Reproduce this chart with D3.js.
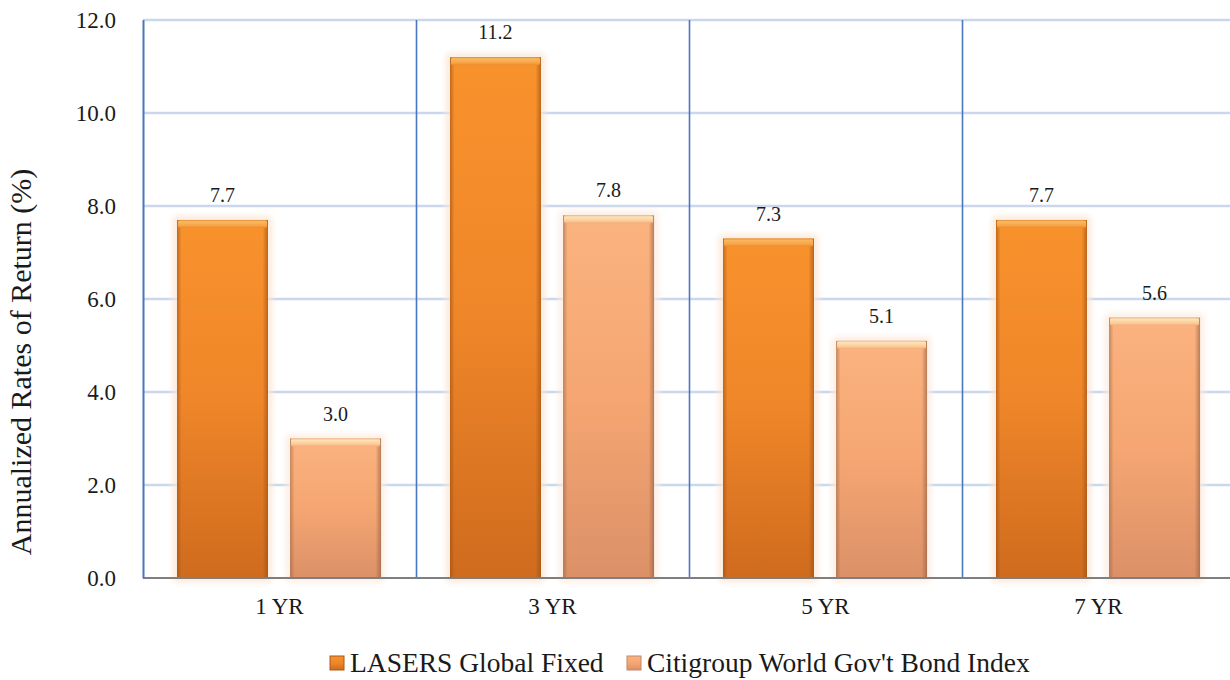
<!DOCTYPE html>
<html>
<head>
<meta charset="utf-8">
<script src="https://cdn.jsdelivr.net/npm/d3@7"></script>
<style>
  html, body { margin: 0; padding: 0; background: #ffffff; }
  svg { display: block; }
  svg text { font-family: "Liberation Serif", "DejaVu Serif", serif !important; fill: #1a1a1a; }
</style>
</head>
<body>
<svg id="chart" width="1230" height="680"></svg>
<script>
// Annualized returns by horizon
const categories = ["1 YR", "3 YR", "5 YR", "7 YR"];
const seriesNames = ["LASERS Global Fixed", "Citigroup World Gov't Bond Index"];
const lasersValues = [7.7, 11.2, 7.3, 7.7];
const citiValues = [3.0, 7.8, 5.1, 5.6];
const yTicks = [0, 2, 4, 6, 8, 10, 12];
const yTitle = "Annualized Rates of Return (%)";

const svg = d3.select("#chart");
const margin = { left: 143, right: -5, top: 20, bottom: 102 };
const W = 1230, H = 680;
const FONT = "'Liberation Serif', 'DejaVu Serif', serif";

const x0 = d3.scaleBand().domain(categories).range([margin.left, W - margin.right]).paddingInner(0).paddingOuter(0);
const bw = x0.bandwidth();
const x1 = d3.scaleBand().domain(seriesNames)
  .range([bw * 0.1245, bw * 0.872]).paddingInner(0.195).paddingOuter(0);
const y = d3.scaleLinear().domain([0, 12]).range([H - margin.bottom, margin.top]);

const defs = svg.append("defs");
function grad(id, horizontal, stops) {
  const g = defs.append("linearGradient").attr("id", id)
    .attr("x1", 0).attr("y1", 0).attr("x2", horizontal ? 1 : 0).attr("y2", horizontal ? 0 : 1);
  stops.forEach(s => g.append("stop").attr("offset", s[0]).attr("stop-color", s[1]).attr("stop-opacity", s[2] == null ? 1 : s[2]));
}
grad("fillA", false, [[0, "#f8922c"], [0.5, "#ef8629"], [1, "#cf6b1e"]]);
grad("fillB", false, [[0, "#fbb37f"], [0.5, "#f5a672"], [1, "#db9067"]]);
grad("edgeA", true, [[0, "#9a4f14", 0.6], [0.05, "#9a4f14", 0], [0.94, "#9a4f14", 0], [1, "#9a4f14", 0.65]]);
grad("edgeB", true, [[0, "#8c5a3e", 0.5], [0.05, "#8c5a3e", 0], [0.94, "#8c5a3e", 0], [1, "#8c5a3e", 0.6]]);
grad("capA", false, [[0, "#d98a3a"], [0.2, "#fab85e"], [0.7, "#f8a347"], [1, "#ec8c2d"]]);
grad("capB", false, [[0, "#e8b68e"], [0.2, "#fde3b6"], [0.7, "#fccb97"], [1, "#f4ac7c"]]);
const glow = defs.append("filter").attr("id", "glow").attr("x", "-20%").attr("y", "-20%").attr("width", "140%").attr("height", "140%");
glow.append("feGaussianBlur").attr("stdDeviation", 2.5);

// horizontal gridlines
svg.append("g").selectAll("line").data(yTicks.filter(t => t > 0)).join("line")
  .attr("x1", margin.left).attr("x2", W)
  .attr("y1", d => y(d)).attr("y2", d => y(d))
  .attr("stroke", "#cbd7ec").attr("stroke-width", 2.4);

// category dividers
svg.append("g").selectAll("line").data(categories).join("line")
  .attr("x1", d => x0(d) + 0.5).attr("x2", d => x0(d) + 0.5)
  .attr("y1", y(12)).attr("y2", y(0))
  .attr("stroke", "#4a76c0").attr("stroke-width", 1.6);

// bars
const rows = categories.map((c, i) => ({ cat: c, vals: [lasersValues[i], citiValues[i]] }));
const groups = svg.append("g").selectAll("g").data(rows).join("g")
  .attr("transform", d => `translate(${x0(d.cat)},0)`);

const bars = groups.selectAll("g.bar").data(d => d.vals.map((v, j) => ({ v, s: seriesNames[j], j }))).join("g").attr("class", "bar");
const bwid = x1.bandwidth();

bars.append("rect")
  .attr("x", d => x1(d.s) - 5).attr("y", d => y(d.v) - 5)
  .attr("width", bwid + 10).attr("height", d => y(0) - y(d.v) + 10)
  .attr("rx", 6).attr("fill", d => d.j === 0 ? "#fbe6d4" : "#fcebe0").attr("opacity", 0.7)
  .attr("filter", "url(#glow)");
bars.append("rect")
  .attr("x", d => x1(d.s)).attr("y", d => y(d.v))
  .attr("width", bwid).attr("height", d => y(0) - y(d.v))
  .attr("fill", d => d.j === 0 ? "url(#fillA)" : "url(#fillB)");
bars.append("rect")
  .attr("x", d => x1(d.s)).attr("y", d => y(d.v))
  .attr("width", bwid).attr("height", d => y(0) - y(d.v))
  .attr("fill", d => d.j === 0 ? "url(#edgeA)" : "url(#edgeB)");
bars.append("rect")
  .attr("x", d => x1(d.s) + 1).attr("y", d => y(d.v))
  .attr("width", bwid - 2).attr("height", 8).attr("rx", 2)
  .attr("fill", d => d.j === 0 ? "url(#capA)" : "url(#capB)");
bars.append("text")
  .attr("x", d => x1(d.s) + bwid / 2).attr("y", d => y(d.v) - 18)
  .attr("text-anchor", "middle").attr("font-size", 20).attr("font-family", FONT)
  .text(d => d.v.toFixed(1));

// baseline
svg.append("line").attr("x1", margin.left).attr("x2", W).attr("y1", y(0)).attr("y2", y(0))
  .attr("stroke", "#7f7f7f").attr("stroke-width", 2);

// y axis
const yAxis = svg.append("g").attr("transform", `translate(${margin.left},0)`)
  .call(d3.axisLeft(y).tickValues(yTicks).tickFormat(d3.format(".1f")).tickSize(0).tickPadding(27));
yAxis.attr("font-family", FONT);
yAxis.select(".domain").attr("stroke", "#4a76c0").attr("stroke-width", 1.6);
yAxis.selectAll("text").attr("font-size", 23).attr("fill", "#1a1a1a");

// x axis labels
const xAxis = svg.append("g").attr("transform", `translate(0,${y(0)})`)
  .call(d3.axisBottom(x0).tickSize(0).tickPadding(20));
xAxis.attr("font-family", FONT);
xAxis.select(".domain").remove();
xAxis.selectAll("text").attr("font-size", 23).attr("fill", "#1a1a1a");

// y title
svg.append("text").attr("transform", `translate(31,${(y(0) + y(12)) / 2 + 63}) rotate(-90)`)
  .attr("text-anchor", "middle").attr("font-size", 30).attr("font-family", FONT).text(yTitle);

// legend
const legend = svg.append("g").attr("transform", "translate(330,663)");
const legX = [0, 297];
seriesNames.forEach((name, i) => {
  const g = legend.append("g").attr("transform", `translate(${legX[i]},0)`);
  g.append("rect").attr("x", 0).attr("y", -7).attr("width", 14).attr("height", 14)
    .attr("fill", i === 0 ? "url(#fillA)" : "url(#fillB)").attr("stroke", i === 0 ? "#a85a1a" : "#c08a6c").attr("stroke-width", 1);
  g.append("text").attr("x", 20).attr("y", 9).attr("font-size", 27.5).attr("font-family", FONT).text(name);
});
</script>
</body>
</html>
